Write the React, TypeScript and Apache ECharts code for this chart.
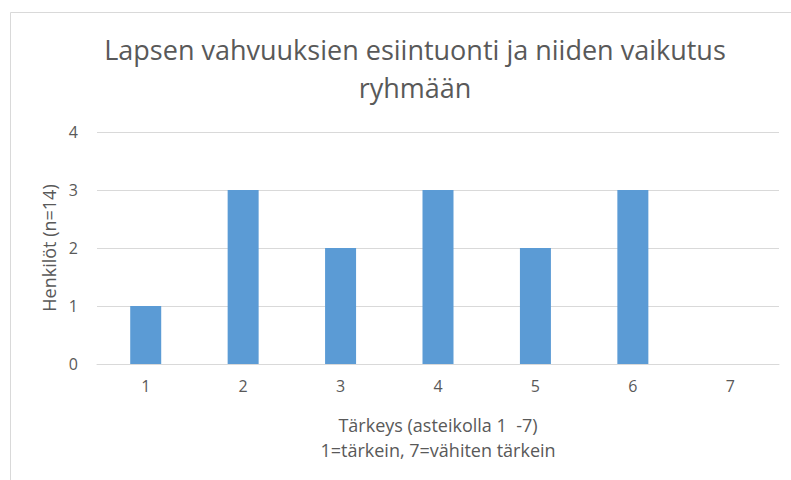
import React, { useEffect, useRef } from "react";
import * as echarts from "echarts";

const categories = ["1", "2", "3", "4", "5", "6", "7"];
const values = [1, 3, 2, 3, 2, 3, 0];
const titleText = "Lapsen vahvuuksien esiintuonti ja niiden vaikutus\nryhmään";
const yAxisName = "Henkilöt (n=14)";
const xAxisName = "Tärkeys (asteikolla 1  -7)\n1=tärkein, 7=vähiten tärkein";

const FONT = "'Open Sans', 'Noto Sans', sans-serif";
const TXT = "#595959";

export default function App() {
  const ref = useRef<HTMLDivElement>(null);
  useEffect(() => {
    document.body.style.margin = "0";
    const chart = echarts.init(ref.current!, undefined, { renderer: "svg" });
    chart.setOption({
      animation: false,
      backgroundColor: "#ffffff",
      textStyle: { fontFamily: FONT },
      title: {
        text: titleText,
        left: 410,
        textAlign: "center",
        top: 25,
        textStyle: {
          fontFamily: FONT,
          fontSize: 27,
          fontWeight: "normal",
          color: TXT,
          lineHeight: 38,
        },
      },
      graphic: [
        {
          type: "polyline",
          shape: { points: [[10.5, 480], [10.5, 12.5], [791, 12.5]] },
          style: { stroke: "#d9d9d9", fill: "none", lineWidth: 1 },
          silent: true,
        },
      ],
      grid: { left: 97, right: 12, top: 132, bottom: 116, containLabel: false },
      xAxis: {
        type: "category",
        data: categories,
        name: xAxisName,
        nameLocation: "middle",
        nameGap: 48,
        nameTextStyle: { fontFamily: FONT, fontSize: 18, color: TXT, lineHeight: 25 },
        axisLine: { show: true, lineStyle: { color: "#d9d9d9" } },
        axisTick: { show: false },
        axisLabel: { fontFamily: FONT, fontSize: 16, color: TXT, margin: 14 },
      },
      yAxis: {
        type: "value",
        min: 0,
        max: 4,
        interval: 1,
        name: yAxisName,
        nameLocation: "middle",
        nameGap: 36,
        nameTextStyle: { fontFamily: FONT, fontSize: 18, color: TXT },
        axisLine: { show: false },
        axisTick: { show: false },
        axisLabel: { fontFamily: FONT, fontSize: 16, color: TXT, margin: 19 },
        splitLine: { lineStyle: { color: "#d9d9d9" } },
      },
      series: [
        {
          type: "bar",
          data: values,
          barWidth: 31,
          itemStyle: { color: "#5b9bd5" },
        },
      ],
    });
    return () => chart.dispose();
  }, []);
  return <div ref={ref} style={{ width: 791, height: 480 }} />;
}
